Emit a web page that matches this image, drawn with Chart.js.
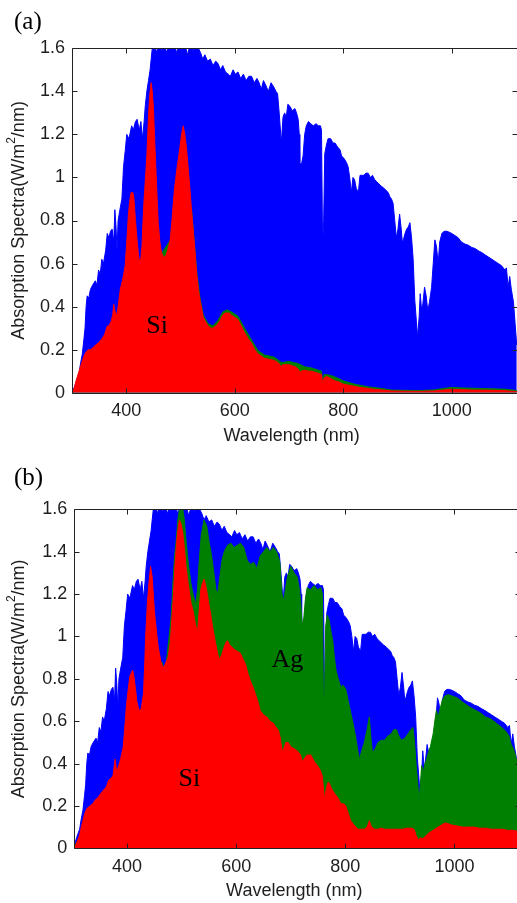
<!DOCTYPE html>
<html>
<head>
<meta charset="utf-8">
<script src="https://cdn.jsdelivr.net/npm/chart.js@4.4.1/dist/chart.umd.min.js"></script>
<style>
  html, body { margin:0; padding:0; background:#fff; overflow:hidden; width:517px; height:903px; }
  #wrapA { position:absolute; left:0; top:0; }
  #wrapB { position:absolute; left:0; top:450px; }
</style>
</head>
<body>
<div id="wrapA"><canvas id="chartA" width="525" height="450"></canvas></div>
<div id="wrapB"><canvas id="chartB" width="525" height="453"></canvas></div>
<script>
// ---------------- DATA (wavelength nm, W/m^2/nm) ----------------
const xTickValues = [400, 600, 800, 1000];
const xTickLabels = ['400', '600', '800', '1000'];
const yTickValues = [0, 0.2, 0.4, 0.6, 0.8, 1.0, 1.2, 1.4, 1.6];
const yTickLabels = ['0', '0.2', '0.4', '0.6', '0.8', '1', '1.2', '1.4', '1.6'];

// Incident solar spectrum (blue), same in both panels
const solarSpectrum = [
 [300,0],[305,0.03],[310,0.07],[313,0.09],[316,0.14],[319,0.18],[322,0.25],[324,0.30],[326,0.40],[328,0.45],
 [331,0.44],[334,0.48],[338,0.50],[343,0.52],[346,0.50],[349,0.57],[352,0.55],[355,0.62],[358,0.60],[362,0.66],
 [365,0.74],[368,0.72],[371,0.75],[374,0.76],[377,0.70],[379,0.85],[381,0.78],[383,0.66],[385,0.80],[389,0.86],
 [392,0.90],[395,1.05],[398,1.12],[401,1.20],[405,1.18],[410,1.24],[413,1.22],[417,1.26],[420,1.27],[424,1.22],
 [427,1.26],[430,1.18],[433,1.26],[435,1.33],[438,1.40],[441,1.45],[444,1.50],[448,1.60],[452,1.62],[456,1.58],
 [460,1.62],[465,1.59],[470,1.62],[474,1.58],[479,1.62],[484,1.60],[488,1.62],[493,1.58],[498,1.62],[503,1.59],
 [508,1.62],[513,1.57],[518,1.62],[523,1.59],[528,1.62],[533,1.60],[537,1.58],[541,1.55],[545,1.57],[550,1.54],
 [555,1.55],[560,1.52],[565,1.54],[569,1.53],[574,1.50],[578,1.52],[583,1.49],[588,1.48],[592,1.47],[597,1.50],
 [601,1.48],[606,1.49],[611,1.46],[616,1.48],[621,1.45],[626,1.47],[631,1.47],[636,1.44],[641,1.46],[645,1.44],
 [649,1.41],[653,1.45],[657,1.43],[662,1.40],[667,1.44],[672,1.42],[676,1.40],[679,1.39],[682,1.30],[686,1.16],
 [689,1.28],[692,1.30],[695,1.28],[698,1.34],[702,1.33],[706,1.31],[711,1.32],[714,1.30],[717,1.27],[719,1.20],
 [720,1.07],[723,1.06],[726,1.10],[729,1.20],[732,1.24],[736,1.26],[740,1.25],[745,1.24],[750,1.25],[754,1.24],
 [758,1.24],[760,1.22],[762,0.69],[764,0.80],[766,1.11],[769,1.15],[772,1.18],[777,1.18],[781,1.16],[785,1.16],
 [790,1.14],[794,1.13],[797,1.10],[801,1.09],[806,1.07],[809,1.05],[812,1.00],[815,0.93],[818,1.00],[821,0.99],
 [824,0.95],[828,0.93],[831,1.01],[834,1.01],[838,1.01],[842,1.02],[846,1.02],[850,1.00],[854,1.01],[858,0.99],
 [862,0.98],[866,0.97],[870,0.96],[875,0.95],[879,0.94],[883,0.93],[886,0.91],[889,0.90],[892,0.88],[895,0.80],
 [898,0.72],[901,0.76],[904,0.83],[907,0.76],[909,0.70],[911,0.71],[914,0.74],[917,0.76],[920,0.77],[923,0.79],
 [926,0.72],[929,0.62],[932,0.43],[935,0.33],[937,0.26],[940,0.35],[942,0.46],[944,0.40],[945,0.37],[948,0.44],
 [950,0.49],[953,0.45],[956,0.38],[959,0.42],[963,0.49],[966,0.60],[969,0.71],[972,0.68],[975,0.60],[978,0.70],
 [982,0.74],[986,0.75],[991,0.75],[996,0.745],[1000,0.74],[1006,0.73],[1012,0.72],[1018,0.70],[1025,0.69],[1031,0.685],
 [1037,0.675],[1043,0.67],[1049,0.66],[1056,0.65],[1062,0.64],[1068,0.63],[1074,0.62],[1080,0.61],[1086,0.60],[1092,0.59],
 [1098,0.57],[1101,0.58],[1104,0.49],[1107,0.54],[1110,0.48],[1114,0.42],[1117,0.32],[1120,0.22]
];

// Panel (a): Si absorption (red)
const siAbsorptionA = [
 [300,0],[304,0.02],[308,0.06],[313,0.10],[318,0.14],[322,0.17],[326,0.19],[330,0.20],[334,0.20],[339,0.21],
 [343,0.22],[348,0.23],[352,0.24],[355,0.25],[360,0.27],[365,0.31],[368,0.31],[372,0.33],[375,0.36],[377,0.41],
 [379,0.38],[383,0.36],[386,0.42],[389,0.48],[393,0.52],[396,0.56],[398,0.59],[401,0.70],[404,0.83],[407,0.90],
 [409,0.93],[412,0.93],[414,0.91],[417,0.80],[420,0.71],[423,0.63],[426,0.60],[429,0.68],[432,0.86],[435,0.98],
 [438,1.10],[440,1.22],[442,1.33],[444,1.40],[446,1.44],[448,1.40],[450,1.33],[452,1.20],[455,1.02],[457,0.90],
 [459,0.79],[462,0.70],[465,0.65],[469,0.63],[472,0.63],[476,0.66],[481,0.71],[485,0.82],[488,0.92],[490,0.97],
 [494,1.05],[499,1.14],[502,1.20],[505,1.24],[508,1.20],[511,1.14],[514,1.05],[517,0.96],[520,0.86],[524,0.74],
 [527,0.65],[530,0.55],[533,0.48],[536,0.43],[539,0.39],[542,0.35],[546,0.33],[551,0.31],[556,0.30],[560,0.30],
 [565,0.31],[569,0.32],[574,0.34],[578,0.36],[582,0.37],[586,0.37],[590,0.37],[594,0.36],[600,0.35],[606,0.34],
 [612,0.31],[618,0.28],[625,0.25],[631,0.23],[637,0.20],[643,0.18],[649,0.17],[655,0.16],[664,0.155],[673,0.15],
 [680,0.14],[686,0.12],[688,0.13],[692,0.13],[700,0.13],[706,0.125],[712,0.12],[717,0.11],[720,0.095],[723,0.10],
 [729,0.105],[736,0.10],[742,0.10],[748,0.095],[754,0.09],[760,0.085],[762,0.04],[765,0.07],[770,0.075],[778,0.065],
 [785,0.055],[792,0.05],[800,0.04],[810,0.035],[820,0.03],[830,0.025],[846,0.02],[860,0.015],[875,0.012],[889,0.008],
 [910,0.007],[940,0.006],[969,0.008],[985,0.012],[1000,0.016],[1020,0.014],[1040,0.012],[1062,0.012],[1080,0.011],[1100,0.009],
 [1120,0.005]
];

// Panel (a): total absorption Si + Ag (green)
const totalAbsorptionA = [
 [300,0],[520,0.86],[530,0.56],[536,0.44],[542,0.36],[551,0.32],[560,0.31],[569,0.335],[578,0.375],[586,0.385],
 [594,0.375],[606,0.355],[618,0.30],[631,0.245],[643,0.195],[655,0.175],[673,0.165],[686,0.14],[700,0.145],[717,0.135],
 [729,0.12],[742,0.115],[760,0.10],[762,0.05],[765,0.085],[778,0.08],[792,0.065],[800,0.055],[820,0.04],[846,0.027],
 [870,0.02],[889,0.012],[940,0.01],[969,0.013],[985,0.02],[1000,0.024],[1020,0.022],[1062,0.019],[1100,0.016],[1120,0.01]
];

// Panel (b): Si absorption (red)
const siAbsorptionB = [
 [300,0],[305,0.01],[312,0.055],[318,0.12],[323,0.17],[327,0.19],[332,0.20],[337,0.21],[342,0.23],[347,0.24],
 [352,0.26],[357,0.275],[362,0.29],[366,0.32],[370,0.33],[374,0.34],[378,0.42],[381,0.36],[384,0.385],[388,0.42],
 [393,0.48],[396,0.58],[399,0.68],[402,0.75],[405,0.81],[408,0.83],[410,0.84],[412,0.82],[415,0.76],[418,0.69],
 [422,0.65],[426,0.66],[430,0.73],[432,0.85],[434,1.00],[437,1.15],[440,1.25],[443,1.33],[446,1.28],[450,1.12],
 [454,1.02],[457,0.95],[462,0.88],[466,0.85],[470,0.87],[475,0.90],[479,0.97],[482,1.08],[485,1.20],[488,1.35],
 [491,1.45],[494,1.52],[496,1.55],[499,1.53],[502,1.49],[505,1.42],[508,1.33],[512,1.25],[517,1.16],[521,1.12],
 [526,1.05],[529,1.02],[532,1.12],[535,1.22],[538,1.25],[541,1.27],[544,1.24],[547,1.20],[550,1.15],[553,1.11],
 [557,1.04],[562,0.97],[566,0.92],[569,0.89],[573,0.91],[578,0.95],[581,0.97],[584,0.98],[588,0.96],[592,0.95],
 [596,0.94],[602,0.93],[608,0.92],[613,0.89],[617,0.87],[621,0.83],[626,0.79],[631,0.76],[635,0.73],[640,0.69],
 [644,0.65],[650,0.63],[656,0.62],[662,0.60],[668,0.59],[673,0.57],[677,0.56],[681,0.52],[684,0.46],[687,0.47],
 [691,0.50],[695,0.50],[700,0.48],[706,0.47],[712,0.46],[718,0.44],[721,0.41],[724,0.42],[730,0.44],[737,0.44],
 [743,0.41],[749,0.39],[754,0.37],[758,0.34],[760,0.28],[762,0.23],[765,0.28],[768,0.31],[770,0.31],[775,0.28],
 [780,0.26],[786,0.24],[792,0.21],[797,0.21],[801,0.20],[806,0.16],[810,0.13],[816,0.11],[823,0.09],[829,0.09],
 [835,0.09],[840,0.10],[844,0.13],[848,0.10],[854,0.09],[860,0.09],[866,0.095],[872,0.09],[880,0.09],[890,0.09],
 [897,0.09],[905,0.09],[913,0.095],[921,0.095],[926,0.09],[930,0.06],[934,0.04],[938,0.05],[942,0.045],[946,0.055],
 [952,0.07],[958,0.08],[964,0.09],[970,0.10],[976,0.11],[983,0.12],[990,0.115],[995,0.11],[1005,0.105],[1015,0.10],
 [1026,0.10],[1036,0.10],[1046,0.095],[1057,0.095],[1067,0.09],[1077,0.09],[1087,0.09],[1097,0.085],[1107,0.085],[1116,0.08],
 [1120,0.075]
];

// Panel (b): total absorption Si + Ag (green)
const totalAbsorptionB = [
 [300,0],[440,0.5],[460,0.80],[464,0.88],[466,0.86],[469,0.84],[472,0.88],[475,0.95],[478,1.02],[481,1.10],
 [484,1.25],[487,1.38],[490,1.45],[493,1.55],[496,1.60],[502,1.60],[505,1.55],[508,1.45],[512,1.35],[517,1.25],
 [521,1.20],[526,1.15],[529,1.22],[532,1.35],[536,1.48],[541,1.55],[546,1.52],[550,1.45],[555,1.38],[559,1.30],
 [563,1.22],[566,1.20],[570,1.28],[574,1.36],[578,1.40],[584,1.43],[590,1.44],[596,1.42],[602,1.43],[608,1.44],
 [614,1.42],[620,1.36],[626,1.34],[632,1.35],[638,1.32],[644,1.38],[650,1.40],[656,1.42],[662,1.40],[668,1.42],
 [674,1.40],[680,1.35],[684,1.20],[687,1.17],[690,1.22],[694,1.28],[700,1.33],[706,1.30],[712,1.28],[716,1.22],
 [718,1.17],[721,1.05],[724,1.09],[727,1.18],[730,1.23],[736,1.22],[743,1.24],[749,1.22],[755,1.23],[758,1.20],
 [760,0.70],[762,0.72],[764,1.05],[767,1.10],[770,1.08],[774,1.02],[777,0.98],[780,0.90],[783,0.84],[787,0.80],
 [792,0.76],[796,0.77],[801,0.75],[805,0.70],[810,0.64],[815,0.58],[820,0.51],[823,0.46],[826,0.42],[830,0.46],
 [835,0.50],[840,0.56],[844,0.62],[847,0.52],[850,0.45],[855,0.47],[860,0.50],[866,0.51],[872,0.51],[878,0.53],
 [884,0.54],[889,0.56],[894,0.56],[898,0.53],[903,0.51],[909,0.52],[915,0.54],[920,0.56],[924,0.57],[927,0.50],
 [930,0.39],[933,0.30],[935,0.23],[937,0.28],[940,0.39],[943,0.36],[946,0.40],[949,0.42],[952,0.45],[956,0.48],
 [961,0.54],[964,0.60],[967,0.65],[970,0.62],[973,0.65],[978,0.70],[983,0.72],[989,0.725],[995,0.72],[1005,0.71],
 [1015,0.69],[1026,0.67],[1036,0.655],[1047,0.64],[1057,0.62],[1067,0.61],[1077,0.59],[1087,0.57],[1095,0.55],[1100,0.53],
 [1104,0.49],[1108,0.47],[1112,0.44],[1115,0.40],[1118,0.28],[1120,0.22]
];

// Text labels placed in data coordinates [nm, value]
const labelsA = [{text:'Si', at:[457, 0.276]}];
const labelsB = [{text:'Si', at:[514, 0.294]}, {text:'Ag', at:[694, 0.857]}];

// ---------------- RENDERING ----------------
const BLUE = '#0000ff', GREEN = '#008000', RED = '#ff0000';
const INK = '#1e1e1e';
const toXY = arr => arr.map(p => ({x: p[0], y: p[1]}));

function ds(data, color, order) {
  return {
    data: toXY(data), borderColor: color, backgroundColor: color,
    borderWidth: 1, fill: 'origin', pointRadius: 0, tension: 0, order: order
  };
}

const framePlugin = {
  id: 'frame',
  afterDatasetsDraw(chart, args, opts) {
    const {ctx, chartArea: a, scales: {x, y}} = chart;
    ctx.save();
    ctx.strokeStyle = '#222';
    ctx.lineWidth = 1;
    const L = Math.round(a.left) + 0.5, R = Math.round(a.right) + 0.5;
    const T = Math.round(a.top) + 0.5, B = Math.round(a.bottom) + 0.5;
    ctx.beginPath();
    ctx.rect(L, T, R - L, B - T);
    const tl = 5;
    xTickValues.forEach(v => {
      const px = Math.round(x.getPixelForValue(v)) + 0.5;
      ctx.moveTo(px, B); ctx.lineTo(px, B - tl);
      ctx.moveTo(px, T); ctx.lineTo(px, T + tl);
    });
    yTickValues.forEach(v => {
      const py = Math.round(y.getPixelForValue(v)) + 0.5;
      ctx.moveTo(L, py); ctx.lineTo(L + tl, py);
      ctx.moveTo(R, py); ctx.lineTo(R - tl, py);
    });
    ctx.stroke();

    // in-plot labels
    ctx.fillStyle = '#000';
    ctx.font = '26px "Liberation Serif", "Times New Roman", serif';
    ctx.textAlign = 'center';
    ctx.textBaseline = 'alphabetic';
    opts.labels.forEach(l => {
      ctx.fillText(l.text, x.getPixelForValue(l.at[0]), y.getPixelForValue(l.at[1]));
    });

    // panel tag
    ctx.font = '25px "Liberation Serif", "Times New Roman", serif';
    ctx.textAlign = 'left';
    ctx.fillText(opts.tag, 14, opts.tagY);

    // x title
    ctx.fillStyle = INK;
    ctx.font = '18px "Liberation Sans", Arial, sans-serif';
    ctx.textAlign = 'center';
    ctx.fillText('Wavelength (nm)', (a.left + a.right) / 2 - 3, a.bottom + 48);

    // y title with superscript
    const cy = (a.top + a.bottom) / 2;
    ctx.save();
    ctx.translate(19, cy);
    ctx.rotate(-Math.PI / 2);
    const p1 = 'Absorption Spectra(W/m', p2 = '2', p3 = '/nm)';
    ctx.font = '18px "Liberation Sans", Arial, sans-serif';
    const w1 = ctx.measureText(p1).width, w3 = ctx.measureText(p3).width;
    ctx.font = '12px "Liberation Sans", Arial, sans-serif';
    const w2 = ctx.measureText(p2).width;
    let sx = -(w1 + w2 + w3) / 2;
    ctx.textAlign = 'left';
    ctx.textBaseline = 'middle';
    ctx.font = '18px "Liberation Sans", Arial, sans-serif';
    ctx.fillText(p1, sx, 0); sx += w1;
    ctx.font = '12px "Liberation Sans", Arial, sans-serif';
    ctx.fillText(p2, sx, -7); sx += w2;
    ctx.font = '18px "Liberation Sans", Arial, sans-serif';
    ctx.fillText(p3, sx, 0);
    ctx.restore();
    ctx.restore();
  }
};

function makeChart(id, cfg) {
  return new Chart(document.getElementById(id), {
    type: 'line',
    data: { datasets: [
      ds(cfg.red, RED, 1),
      ds(cfg.green, GREEN, 2),
      ds(solarSpectrum, BLUE, 3)
    ]},
    options: {
      responsive: false, animation: false, events: [],
      layout: { padding: { left: 0, top: cfg.top, right: cfg.right, bottom: 0 } },
      plugins: { legend: {display:false}, tooltip: {enabled:false},
        frame: { labels: cfg.labels, tag: cfg.tag, tagY: cfg.tagY } },
      scales: {
        x: {
          type: 'linear', min: cfg.xmin, max: cfg.xmax,
          grid: { display: false, drawTicks: false }, border: { display: false },
          afterBuildTicks: s => { s.ticks = xTickValues.map(v => ({value: v})); },
          afterFit: s => { s.height = cfg.xh; },
          ticks: { autoSkip: false, maxRotation: 0, padding: 8, color: INK,
            font: { family: '"Liberation Sans", Arial, sans-serif', size: 18 },
            callback: (v, i) => xTickLabels[i] }
        },
        y: {
          type: 'linear', min: 0, max: 1.6,
          grid: { display: false, drawTicks: false }, border: { display: false },
          afterBuildTicks: s => { s.ticks = yTickValues.map(v => ({value: v})); },
          afterFit: s => { s.width = cfg.yw; },
          ticks: { autoSkip: false, padding: 7, color: INK,
            font: { family: '"Liberation Sans", Arial, sans-serif', size: 18 },
            callback: (v, i) => yTickLabels[i] }
        }
      }
    },
    plugins: [framePlugin]
  });
}

makeChart('chartA', { red: siAbsorptionA, green: totalAbsorptionA, labels: labelsA,
  tag: '(a)', tagY: 29, xmin: 300, xmax: 1121, top: 48.3, right: 525 - 517.3, yw: 72, xh: 450 - 392.7 });
makeChart('chartB', { red: siAbsorptionB, green: totalAbsorptionB, labels: labelsB,
  tag: '(b)', tagY: 35, xmin: 303, xmax: 1121, top: 59.3, right: 525 - 520.4, yw: 74.2, xh: 453 - 398.3 });
</script>
</body>
</html>
